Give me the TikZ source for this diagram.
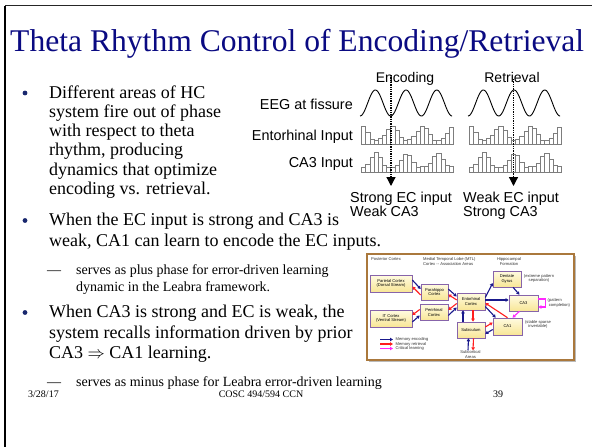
\documentclass[tikz,border=0pt]{standalone}
\usepackage{fontspec}
\setmainfont{Liberation Serif}
\newfontfamily\labelsans{Liberation Sans}
\usetikzlibrary{arrows.meta,calc,shadows}
\definecolor{titleblue}{RGB}{10,10,130}
\definecolor{bulletblue}{RGB}{25,40,110}
\definecolor{encblue}{RGB}{25,25,140}
\definecolor{retred}{RGB}{255,30,30}
\definecolor{critmag}{RGB}{255,40,255}
\definecolor{boxborder}{RGB}{135,100,170}
\definecolor{boxtop}{RGB}{255,251,225}
\definecolor{boxbot}{RGB}{248,230,150}
\definecolor{framebrown}{RGB}{170,120,60}
\definecolor{bargray}{RGB}{125,125,125}
\begin{document}
\begin{tikzpicture}[x=1pt,y=-1pt,
  titletext/.style={anchor=base west, inner sep=0, text=titleblue, font=\fontsize{31.6}{36}\selectfont},
  bodytext/.style={anchor=base west, inner sep=0, font=\fontsize{18}{20}\selectfont},
  subtext/.style={anchor=base west, inner sep=0, font=\fontsize{14}{16}\selectfont},
  dashtext/.style={anchor=base west, inner sep=0, font=\fontsize{14}{16}\selectfont},
  foottext/.style={inner sep=0, font=\fontsize{10}{12}\selectfont},
  bulletdot/.style={circle, fill=bulletblue, inner sep=0, minimum size=4.8},
  sigtext/.style={anchor=base east, inner sep=0, font=\labelsans\fontsize{14.4}{16}\selectfont},
  headtext/.style={anchor=base, inner sep=0, font=\labelsans\fontsize{14}{16}\selectfont},
  captext/.style={anchor=base west, inner sep=0, font=\labelsans\fontsize{14.4}{16}\selectfont},
  wave/.style={line width=0.9, black},
  histbar/.style={draw=bargray, line width=0.55},
  histbase/.style={draw=bargray, line width=0.8},
  dotline/.style={densely dotted, line width=1.3, -{Triangle[width=9pt,length=9pt]}},
  hcbox/.style={draw=boxborder, line width=0.6, top color=boxtop, bottom color=boxbot,
     font=\labelsans\fontsize{4.1}{4.8}\selectfont, align=center, inner sep=0},
  tinytext/.style={inner sep=0, font=\labelsans\fontsize{4.1}{4.8}\selectfont, text=black!80},
  enc/.style={draw=encblue, line width=1.1, -{Triangle[width=3.4pt,length=3pt]}},
  ret/.style={draw=retred, line width=1.1, -{Triangle[width=3.4pt,length=3pt]}},
  crit/.style={draw=critmag, line width=1.1, -{Triangle[width=3.4pt,length=3pt]}}
]
\useasboundingbox (0,0) rectangle (592,447);
\fill[white] (0,0) rectangle (592,447);

% slide frame
\coordinate (frTL) at (5,5.5);
\coordinate (frTR) at (592,5.5);
\coordinate (frBL) at (5,447);
\draw[line width=1.8, black!85] (frTL) -- (frTR);
\draw[line width=2.6, black] (frTL) -- (frBL);

% title
\node[titletext] (title) at (10,51) {Theta Rhythm Control of Encoding/Retrieval};

% bullet 1
\node[bulletdot] (b1) at (25,93) {};
\node[bodytext] (l11) at (49,98) {Different areas of HC};
\node[bodytext] (l12) at (49,117.3) {system fire out of phase};
\node[bodytext] (l13) at (49,136.6) {with respect to theta};
\node[bodytext] (l14) at (49,155.9) {rhythm, producing};
\node[bodytext] (l15) at (49,175.2) {dynamics that optimize};
\node[bodytext] (l16) at (49,194.5) {encoding vs. retrieval.};

% bullet 2
\node[bulletdot] (b2) at (25,220.5) {};
\node[bodytext] (l21) at (49,225.5) {When the EC input is strong and CA3 is};
\node[bodytext] (l22) at (49,246.5) {weak, CA1 can learn to encode the EC inputs.};
\node[dashtext] (d21) at (47,274) {—};
\node[subtext] (s21) at (76,274) {serves as plus phase for error-driven learning};
\node[subtext] (s22) at (76,291) {dynamic in the Leabra framework.};

% bullet 3
\node[bulletdot] (b3) at (25,312.5) {};
\node[bodytext] (l31) at (49,317.5) {When CA3 is strong and EC is weak, the};
\node[bodytext] (l32) at (49,338) {system recalls information driven by prior};
\node[bodytext] (l33) at (49,358.5) {CA3 $\Rightarrow$ CA1 learning.};
\node[dashtext] (d31) at (47,386) {—};
\node[subtext] (s31) at (76,386) {serves as minus phase for Leabra error-driven learning};

% footer
\node[foottext, anchor=base west] (fdate) at (28,397) {3/28/17};
\node[foottext, anchor=base] (fcourse) at (261,397) {COSC 494/594 CCN};
\node[foottext, anchor=base west] (fpage) at (493,397) {39};

% ---------- theta figure ----------
\node[headtext] (hEnc) at (405,82) {Encoding};
\node[headtext] (hRet) at (512,82) {Retrieval};
\node[sigtext] (sEEG) at (353,109) {EEG at fissure};
\node[sigtext] (sEC) at (353,140.3) {Entorhinal Input};
\node[sigtext] (sCA3) at (353,167.3) {CA3 Input};

\foreach \px in {360,468}{
  \draw[wave] plot[domain=0:92.1, samples=120, smooth] ({\px+\x},{103+13*cos(11.7264*\x)});
  \draw[histbase] (\px+1,144) -- (\px+94,144);
  \draw[histbase] (\px+1,172) -- (\px+94,172);
  \foreach \i in {0,...,21}{
    \pgfmathsetmacro\xl{\px+1.5+\i*4.18}
    \pgfmathsetmacro\phs{49.016*(\i+0.5)}
    \pgfmathsetmacro\cea{(1+cos(\phs))/2}
    \pgfmathsetmacro\ceb{(1-cos(\phs))/2}
    \pgfmathsetmacro\hec{4.5+14.5*\cea*\cea+1.2*sin(\i*97)}
    \pgfmathsetmacro\hca{4.5+15*\ceb*\ceb+1.2*sin(\i*53+20)}
    \draw[histbar] (\xl,144) rectangle ++(4.18,-\hec);
    \draw[histbar] (\xl,172) rectangle ++(4.18,-\hca);
  }
}

\coordinate (encTop) at (391,75);
\coordinate (encTip) at (391,186);
\coordinate (retTop) at (513.5,79);
\coordinate (retTip) at (513.5,186);
\draw[dotline] (encTop) -- (encTip);
\draw[dotline] (retTop) -- (retTip);

\node[captext] (c1a) at (350,202) {Strong EC input};
\node[captext] (c1b) at (350,216) {Weak CA3};
\node[captext] (c2a) at (463,202) {Weak EC input};
\node[captext] (c2b) at (463,216) {Strong CA3};

% ---------- hippocampus inset ----------
\node[draw=framebrown, line width=1.3, fill=white, minimum width=207, minimum height=106, inner sep=0,
      drop shadow={shadow xshift=1.6pt, shadow yshift=-1.6pt, fill=black!45, opacity=0.6}] (inset) at (470.5,307) {};

\node[tinytext] (tPost) at (386,259) {Posterior Cortex};
\node[tinytext, align=left, anchor=west] (tMTL) at (423,261.5) {Medial Temporal Lobe (MTL)\\Cortex -- Association Areas};
\node[tinytext, align=center] (tHipp) at (509,261.5) {Hippocampal\\Formation};

\node[hcbox, minimum width=42, minimum height=17] (parietal) at (391,283.5) {Parietal Cortex\\(Dorsal Stream)};
\node[hcbox, minimum width=42, minimum height=17] (itc) at (391,318.5) {IT Cortex\\(Ventral Stream)};
\node[hcbox, minimum width=27, minimum height=16] (parahippo) at (434.5,292) {Parahippo\\Cortex};
\node[hcbox, minimum width=28, minimum height=16] (perirhinal) at (434,312.5) {Perirhinal\\Cortex};
\node[hcbox, minimum width=28, minimum height=17] (ento) at (471,301.5) {Entorhinal\\Cortex};
\node[hcbox, minimum width=28, minimum height=16] (dentate) at (507,279) {Dentate\\Gyrus};
\node[hcbox, minimum width=29, minimum height=16] (ca3) at (523.5,303) {CA3};
\node[hcbox, minimum width=29, minimum height=17] (ca1) at (507.5,326.5) {CA1};
\node[hcbox, minimum width=28, minimum height=16] (sub) at (471,330) {Subiculum};

\node[tinytext, align=center] (tSep) at (539,278.5) {(extreme pattern\\separation)};
\node[tinytext, align=left, anchor=west] (tComp) at (547.5,303) {(pattern\\\ completion)};
\node[tinytext, align=center] (tStab) at (538,324.5) {(stable sparse\\invertable)};
\node[tinytext, align=center] (subcort) at (470.5,354.5) {Subcortical\\Areas};

% cortex <-> MTL
\draw[enc] ($(parietal.east)+(0,-3.5)$) -- ($(parahippo.west)+(0,-3)$);
\draw[ret] ($(parahippo.west)+(0,3)$) -- ($(parietal.east)+(0,3)$);
\draw[ret] ($(perirhinal.west)+(0,-3)$) -- ($(itc.east)+(0,-3.5)$);
\draw[enc] ($(itc.east)+(0,3.5)$) -- ($(perirhinal.west)+(0,3)$);
\draw[enc] ($(parahippo.east)+(0,-3)$) -- ($(ento.west)+(0,-5)$);
\draw[ret] ($(ento.west)+(0,-1.5)$) -- ($(parahippo.east)+(0,2.5)$);
\draw[enc] ($(perirhinal.east)+(0,3)$) -- ($(ento.west)+(0,6)$);
\draw[ret] ($(ento.west)+(0,2)$) -- ($(perirhinal.east)+(0,-2.5)$);
% hippocampus
\draw[enc] ($(ento.east)+(0,-4)$) -- ($(dentate.west)+(0,4)$);
\draw[enc] ($(ento.east)+(0,-1.5)$) -- ($(ca3.west)+(0,-3)$);
\draw[enc] ($(dentate.south)+(6,0)$) -- ($(ca3.north)+(-4,0)$);
\draw[enc] ($(ento.east)+(0,5)$) -- ($(ca1.north west)+(3,0)$);
\draw[ret] (ca1.north) -- ($(ento.east)+(0,1.5)$);
\draw[enc] ($(sub.north)+(-8,0)$) -- ($(ento.south)+(-8,0)$);
\draw[ret] ($(ento.south)+(2,0)$) -- ($(sub.north)+(2,0)$);
\draw[ret] ($(sub.east)+(0,-3)$) -- ($(ca1.west)+(0,-4)$);
\draw[enc] ($(ca1.west)+(0,3)$) -- ($(sub.east)+(0,4)$);
\draw[enc] ($(subcort.north)+(-2.5,0)$) -- ($(sub.south)+(-2.5,0)$);
\draw[ret] ($(sub.south)+(2.5,0)$) -- ($(subcort.north)+(2.5,0)$);
\draw[crit] ($(ca3.south)+(-4,0)$) -- ($(ca1.north)+(5,0)$);
\draw[crit, line width=1.3] ($(ca3.east)+(0,-4)$) -- ++(7,0) -- ++(0,8) -- ($(ca3.east)+(0,4)$);

% legend
\coordinate (lg1a) at (380,339.5); \coordinate (lg1b) at (393,339.5);
\coordinate (lg2a) at (380,344);   \coordinate (lg2b) at (393,344);
\coordinate (lg3a) at (380,348.5); \coordinate (lg3b) at (393,348.5);
\draw[enc] (lg1a) -- (lg1b);
\draw[ret] (lg2a) -- (lg2b);
\draw[crit] (lg3a) -- (lg3b);
\node[tinytext, anchor=west] (lgt1) at (395.5,339.5) {Memory encoding};
\node[tinytext, anchor=west] (lgt2) at (395.5,344) {Memory retrieval};
\node[tinytext, anchor=west] (lgt3) at (395.5,348.5) {Critical learning};
\end{tikzpicture}
\end{document}
